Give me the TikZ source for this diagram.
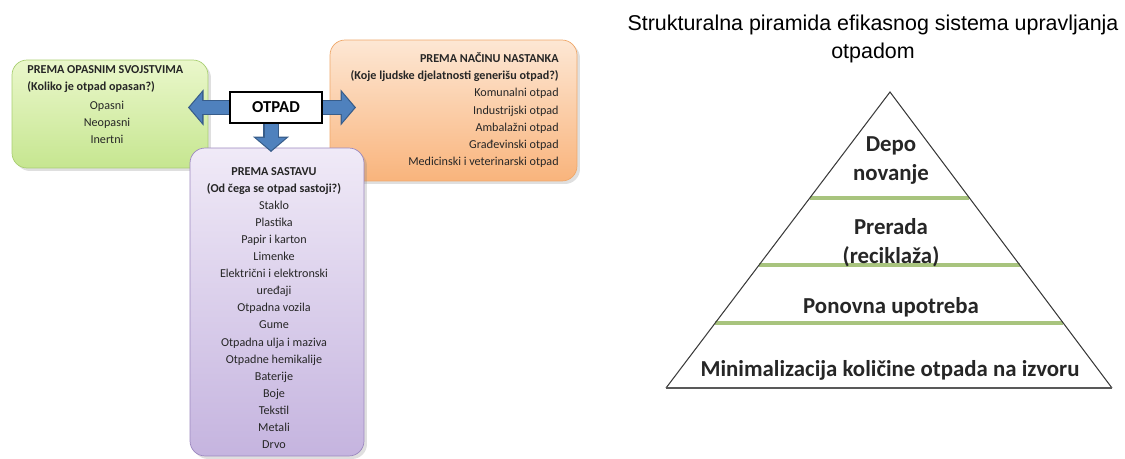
\documentclass[tikz,border=0pt]{standalone}
\usepackage{fontspec}
\setmainfont{Carlito}
\newfontfamily\arialfont{Liberation Sans}
\usetikzlibrary{arrows.meta,shadows,calc}

\definecolor{zelenagore}{HTML}{EAF7CB}
\definecolor{zelenadolje}{HTML}{C6E690}
\definecolor{zelenarub}{HTML}{A9CF72}
\definecolor{narandzagore}{HTML}{FDE7D4}
\definecolor{narandzadolje}{HTML}{F9B47C}
\definecolor{narandzarub}{HTML}{EFA86A}
\definecolor{ljubicagore}{HTML}{F0EAF7}
\definecolor{ljubicadolje}{HTML}{C5B4DF}
\definecolor{ljubicarub}{HTML}{9C88BF}
\definecolor{plava}{HTML}{4F81BD}
\definecolor{plavarub}{HTML}{385D8A}
\definecolor{tekst}{HTML}{262626}
\definecolor{ivica}{HTML}{3C3C3C}
\definecolor{zelenalinija}{HTML}{A8C47E}

\begin{document}
\begin{tikzpicture}[x=0.02cm,y=-0.02cm]
\tikzset{kutija/.style={rounded corners=0.3cm, inner sep=0pt, drop shadow={opacity=0.25, shadow xshift=0.06cm, shadow yshift=-0.06cm}},
  zelena/.style={kutija, draw=zelenarub, top color=zelenagore, bottom color=zelenadolje, minimum width=3.92cm, minimum height=2.16cm},
  narandza/.style={kutija, draw=narandzarub, top color=narandzagore, bottom color=narandzadolje, minimum width=4.94cm, minimum height=2.82cm},
  ljubica/.style={kutija, draw=ljubicarub, top color=ljubicagore, bottom color=ljubicadolje, minimum width=3.48cm, minimum height=6.16cm},
  otpadbox/.style={draw=black, line width=1.1pt, fill=white, minimum width=1.84cm, minimum height=0.62cm, font=\bfseries\fontsize{9.5}{11}\selectfont},
  sitno/.style={inner sep=0pt, text=tekst, font=\fontsize{6.9}{9.7}\selectfont},
  strelica/.style={draw=plava, line width=0.26cm, shorten >=0.033cm, -{Triangle[length=0.25cm,width=0.58cm]},
    preaction={draw=plavarub, line width=0.31cm, shorten >=0pt, -{Triangle[length=0.31cm,width=0.71cm]}}},
  stepenica/.style={align=center, inner sep=0pt, text=tekst, font=\bfseries\fontsize{13}{16.5}\selectfont},
  naslovtekst/.style={align=center, inner sep=0pt, font=\arialfont\fontsize{12.2}{16}\selectfont},
  razdjelnik/.style={draw=zelenalinija, line width=0.08cm}}
\useasboundingbox (0,0) rectangle (1125,459);

% kutije
\node[zelena] (opasnost) at (110,114) {};
\node[narandza] (nastanak) at (453.5,110.5) {};
\node[ljubica] (sastav) at (277,302) {};

\node[sitno, anchor=west, align=left] (opasnostnaslov) at (27,79) {\textbf{PREMA OPASNIM SVOJSTVIMA}\\\textbf{(Koliko je otpad opasan?)}};
\node[sitno, align=center] (opasnostvrste) at (107,122) {Opasni\\Neopasni\\Inertni};
\node[sitno, anchor=east, align=right] (nastanakvrste) at (559,110) {\textbf{PREMA NAČINU NASTANKA}\\\textbf{(Koje ljudske djelatnosti generišu otpad?)}\\Komunalni otpad\\Industrijski otpad\\Ambalažni otpad\\Građevinski otpad\\Medicinski i veterinarski otpad};
\node[sitno, align=center] (sastavvrste) at (274,308) {\textbf{PREMA SASTAVU}\\\textbf{(Od čega se otpad sastoji?)}\\Staklo\\Plastika\\Papir i karton\\Limenke\\Električni i elektronski\\uređaji\\Otpadna vozila\\Gume\\Otpadna ulja i maziva\\Otpadne hemikalije\\Baterije\\Boje\\Tekstil\\Metali\\Drvo};

% otpad i strelice
\node[otpadbox] (otpad) at (276,107.5) {OTPAD};
\coordinate (lijevivrh) at (188,107.5);
\coordinate (desnivrh) at (356,107.5);
\coordinate (donjivrh) at (271,152);
\draw[strelica] (otpad.west) -- (lijevivrh);
\draw[strelica] (otpad.east) -- (desnivrh);
\draw[strelica] (otpad.south -| donjivrh) -- (donjivrh);

% piramida
\node[naslovtekst] (naslov) at (873,39) {Strukturalna piramida efikasnog sistema upravljanja\\otpadom};
\coordinate (vrh) at (890,92);
\coordinate (lijevo) at (666,388);
\coordinate (desno) at (1112,388);
\draw[razdjelnik] ($(vrh)!0.358!(lijevo)$) -- ($(vrh)!0.358!(desno)$);
\draw[razdjelnik] ($(vrh)!0.584!(lijevo)$) -- ($(vrh)!0.584!(desno)$);
\draw[razdjelnik] ($(vrh)!0.780!(lijevo)$) -- ($(vrh)!0.780!(desno)$);
\draw[ivica, line width=0.6pt] (lijevo) -- (vrh) -- (desno);
\draw[ivica!85, line width=1.2pt] (lijevo) -- (desno);
\node[stepenica] (depo) at (891,161) {Depo\\novanje};
\node[stepenica] (prerada) at (891,243) {Prerada\\(reciklaža)};
\node[stepenica] (ponovna) at (891,307) {Ponovna upotreba};
\node[stepenica] (minimalizacija) at (890,370) {Minimalizacija količine otpada na izvoru};
\end{tikzpicture}
\end{document}
